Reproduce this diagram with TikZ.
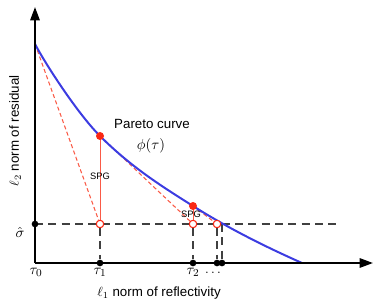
\documentclass[tikz,border=0pt]{standalone}
\usepackage{fontspec}
\setmainfont{Liberation Sans}
\usetikzlibrary{arrows.meta}
\definecolor{pblue}{RGB}{60,60,225}
\definecolor{pred}{RGB}{250,40,20}
\definecolor{pdash}{RGB}{250,90,70}
\tikzset{
  axisline/.style={line width=1.5pt,-{Triangle[length=10pt,width=7pt]}},
  curveline/.style={pblue,line width=1.5pt},
  reddash/.style={pdash,line width=0.8pt,dash pattern=on 3pt off 2pt},
  redline/.style={pdash,line width=0.7pt},
  blackdash/.style={black!75,line width=0.8pt,dash pattern=on 6pt off 4pt},
  reddot/.style={circle,fill=pred,inner sep=0pt,minimum size=6pt},
  redring/.style={circle,draw=pred,fill=white,line width=0.7pt,inner sep=0pt,minimum size=5.5pt},
  blackdot/.style={circle,fill=black,inner sep=0pt,minimum size=5pt},
  lbl/.style={font=\fontsize{10}{12}\selectfont,inner sep=0pt},
  small/.style={font=\fontsize{7}{8}\selectfont,inner sep=0pt},
}
\begin{document}
\begin{tikzpicture}[x=0.75pt,y=-0.75pt]
\useasboundingbox (0,0) rectangle (374,306);
% key coordinates
\coordinate (O) at (35,263);
\coordinate (ytip) at (35,7);
\coordinate (xtip) at (373,263);
\coordinate (s0) at (35,224);
\coordinate (send) at (338,224);
\coordinate (P0) at (35,44);
\coordinate (P1) at (100,136);
\coordinate (P2) at (193,206);
\coordinate (P3) at (302,263);
% horizontal sigma line
\draw[blackdash] (s0) -- (send);
% red dashed secants
\node[redring] (c1) at (100,224) {};
\node[redring] (c2) at (193,224) {};
\node[redring] (c3) at (217,224) {};
\coordinate (x4) at (222,224);
\draw[reddash] (P0) -- (c1.center);
\draw[reddash] (P1) -- (c2.center);
\draw[reddash] (P2) -- (c3.center);
% red verticals
\draw[redline] (P1) -- (c1.center);
\draw[redline] (P2) -- (c2.center);
% black dashed verticals
\node[blackdot] (t1) at (100,263) {};
\node[blackdot] (t2) at (193,263) {};
\node[blackdot] (t3) at (217,263) {};
\node[blackdot] (t4) at (222,263) {};
\draw[blackdash] (c1) -- (t1);
\draw[blackdash] (c2) -- (t2);
\draw[blackdash] (c3) -- (t3);
\draw[blackdash] (x4) -- (t4);
% Pareto curve
\draw[curveline] (P0) .. controls (46,65) and (78,114) .. (P1)
  .. controls (131,167) and (162,186.5) .. (P2)
  .. controls (229,228.7) and (266,247) .. (P3);
% axes
\draw[axisline] (O) -- (ytip);
\draw[axisline] (O) -- (xtip);
% rings and dots on top
\node[redring] at (c1) {};
\node[redring] at (c2) {};
\node[redring] at (c3) {};
\node[reddot] (d1) at (P1) {};
\node[reddot] (d2) at (P2) {};
\node[blackdot] (sd) at (s0) {};
% labels
\node[lbl] (pc) at (152,124) {Pareto curve};
\node[lbl,font=\fontsize{11}{13}\selectfont] (phi) at (151,146) {$\phi(\tau)$};
\node[small] (spg1) at (100,176) {SPG};
\node[small] (spg2) at (191,214) {SPG};
\node[lbl,font=\fontsize{11}{13}\selectfont] (sig) at (20,232) {$\hat{\sigma}$};
\node[lbl,font=\fontsize{11}{13}\selectfont] (tau0) at (36,272) {$\tau_0$};
\node[lbl,font=\fontsize{11}{13}\selectfont] (tau1) at (100,272) {$\tau_1$};
\node[lbl,font=\fontsize{11}{13}\selectfont] (tau2) at (193,272) {$\tau_2$};
\node[lbl] (dots) at (213,273) {$\ldots$};
\node[lbl] (xl) at (159,293) {$\ell_1$ norm of reflectivity};
\node[lbl,rotate=90] (yl) at (15,131) {$\ell_2$ norm of residual};
\end{tikzpicture}
\end{document}
